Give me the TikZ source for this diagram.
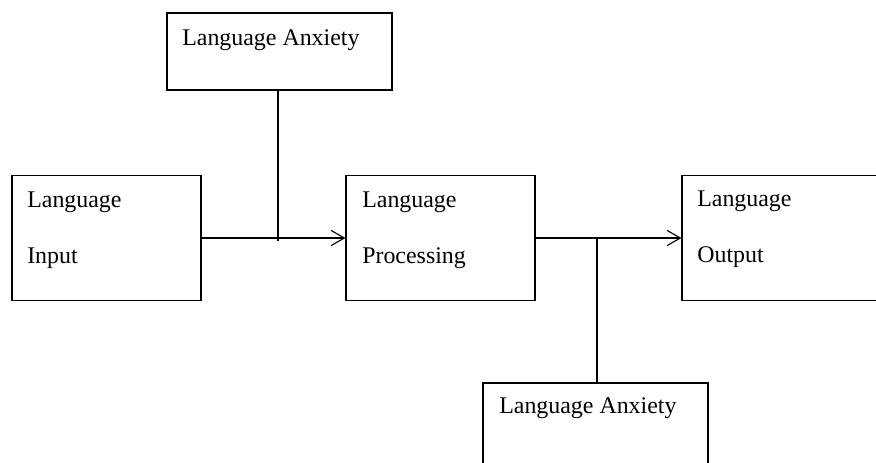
\documentclass[tikz,border=0pt]{standalone}
\usepackage{fontspec}
\setmainfont{Liberation Serif}
\usetikzlibrary{arrows.meta}

\begin{document}
\begin{tikzpicture}
   [
   x=0.025cm, y=-0.025cm,
   box/.style={rectangle, draw=black, fill=white, line width=0.8pt, inner sep=0pt},
   boxtext/.style={anchor=base west, inner sep=0pt, font=\fontsize{17}{20}\selectfont},
   arr/.style={line width=0.8pt, -{Straight Barb[length=3.3mm, width=3.8mm, line width=0.8pt]}},
   link/.style={line width=0.8pt},
   ]
 \useasboundingbox (0,0) rectangle (876,462);
 \clip (0,0) rectangle (876,462);
 \node at (279.5,51.5) [box, minimum width=5.625cm, minimum height=1.925cm] (anx1) {};
 \node at (106.5,238) [box, minimum width=4.725cm, minimum height=3.125cm] (input) {};
 \node at (440.5,238) [box, minimum width=4.725cm, minimum height=3.125cm] (proc) {};
 \node at (786,238) [box, minimum width=5.2cm, minimum height=3.125cm] (output) {};
 \node at (595.5,433) [box, minimum width=5.625cm, minimum height=2.5cm] (anx2) {};
 \node at (182,45) [boxtext] (t1) {Language Anxiety};
 \node at (27,207) [boxtext] (t2) {Language};
 \node at (27,263) [boxtext] (t3) {Input};
 \node at (362,207) [boxtext] (t4) {Language};
 \node at (362,263) [boxtext] (t5) {Processing};
 \node at (697,206) [boxtext] (t6) {Language};
 \node at (697,262) [boxtext] (t7) {Output};
 \node at (499,413) [boxtext] (t8) {Language Anxiety};
 \coordinate (j1) at (278,240.5);
 \coordinate (j2) at (597,238);
 \draw[arr] (input.east) -- (proc.west);
 \draw[link] (anx1.south -| j1) -- (j1);
 \draw[arr] (proc.east) -- (output.west);
 \draw[link] (j2) -- (j2 |- anx2.north);
\end{tikzpicture}
\end{document}
